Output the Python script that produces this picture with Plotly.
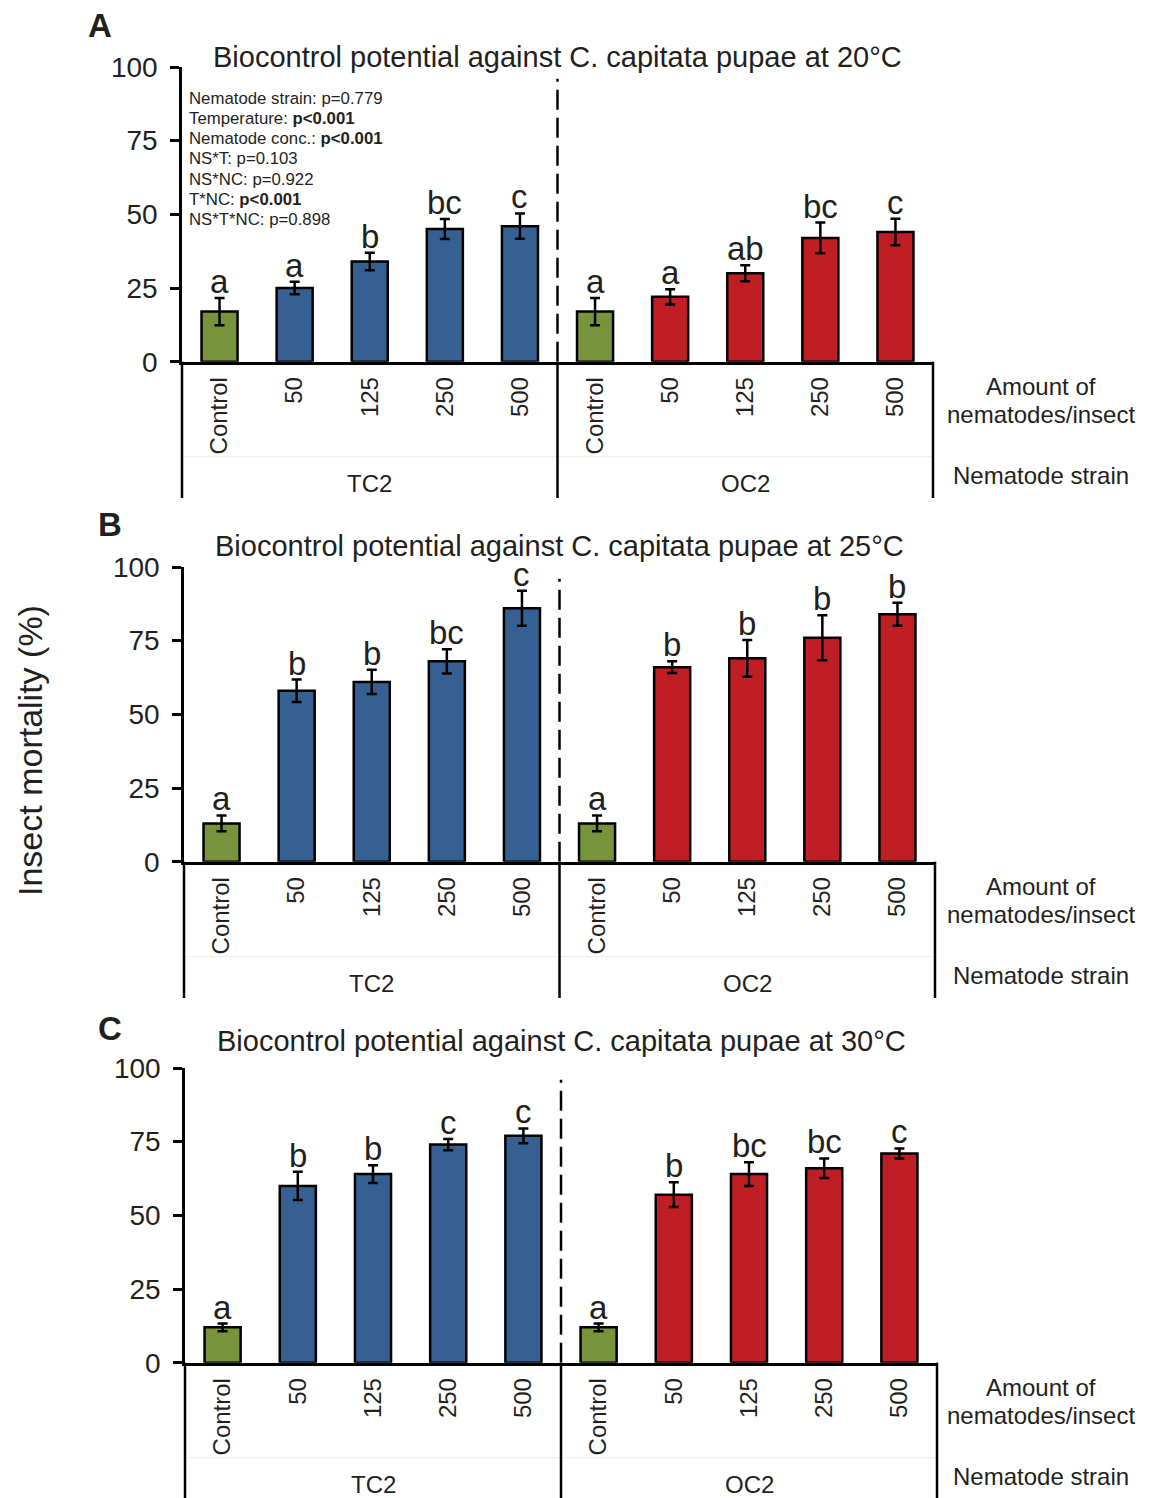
import plotly.graph_objects as go

# ---------------- data ----------------
categories = ["Control", "50", "125", "250", "500"]
strains = ["TC2", "OC2"]
temps = ["20", "25", "30"]

mort_20_TC2 = [17, 25, 34, 45, 46]
err_20_TC2 = [4.6, 2.1, 3.0, 3.4, 4.3]
let_20_TC2 = ["a", "a", "b", "bc", "c"]
mort_20_OC2 = [17, 22, 30, 42, 44]
err_20_OC2 = [4.6, 2.6, 2.7, 5.2, 4.5]
let_20_OC2 = ["a", "a", "ab", "bc", "c"]

mort_25_TC2 = [13, 58, 61, 68, 86]
err_25_TC2 = [2.7, 3.8, 4.1, 4.1, 5.9]
let_25_TC2 = ["a", "b", "b", "bc", "c"]
mort_25_OC2 = [13, 66, 69, 76, 84]
err_25_OC2 = [2.7, 2.0, 6.2, 7.6, 3.9]
let_25_OC2 = ["a", "b", "b", "b", "b"]

mort_30_TC2 = [12, 60, 64, 74, 77]
err_30_TC2 = [1.3, 4.8, 3.0, 1.9, 2.5]
let_30_TC2 = ["a", "b", "b", "c", "c"]
mort_30_OC2 = [12, 57, 64, 66, 71]
err_30_OC2 = [1.3, 4.2, 4.0, 3.3, 1.7]
let_30_OC2 = ["a", "b", "bc", "bc", "c"]

stats_lines = [
    "Nematode strain: p=0.779",
    "Temperature: <b>p<0.001</b>",
    "Nematode conc.: <b>p<0.001</b>",
    "NS*T: p=0.103",
    "NS*NC: p=0.922",
    "T*NC: <b>p<0.001</b>",
    "NS*T*NC: p=0.898",
]
y_ticks = [0, 25, 50, 75, 100]

# ---------------- styling ----------------
OFF = 8                      # page body margin of the html page
W, H = 1154 - OFF, 1498 - OFF
FONT = "Liberation Sans, Arial, sans-serif"
TXT = "#231f20"
GREEN = "#77933c"
BLUE = "#376092"
RED = "#be1e24"
strain_colors = {"TC2": BLUE, "OC2": RED}

def fx(px):
    return (px - OFF) / W

def fy(py):
    return 1 - (py - OFF) / H

panels = [
    dict(label="A", x0=182, x1=933, y0=67, y1=361.7, bottom=498, label_xy=(100, 25), title_y=57,
         data={"TC2": (mort_20_TC2, err_20_TC2, let_20_TC2), "OC2": (mort_20_OC2, err_20_OC2, let_20_OC2)}),
    dict(label="B", x0=184, x1=935, y0=567, y1=861.7, bottom=998, label_xy=(110, 524), title_y=546,
         data={"TC2": (mort_25_TC2, err_25_TC2, let_25_TC2), "OC2": (mort_25_OC2, err_25_OC2, let_25_OC2)}),
    dict(label="C", x0=185, x1=937, y0=1068, y1=1362.7, bottom=1498, label_xy=(110, 1028), title_y=1041,
         data={"TC2": (mort_30_TC2, err_30_TC2, let_30_TC2), "OC2": (mort_30_OC2, err_30_OC2, let_30_OC2)}),
]

fig = go.Figure()
annotations = []
shapes = []
layout_axes = {}

tick_text = categories * len(strains)
n_cat = len(tick_text)

for pi, (p, temp) in enumerate(zip(panels, temps)):
    sfx = "" if pi == 0 else str(pi + 1)
    xa, ya = "x" + sfx, "y" + sfx
    for si, strain in enumerate(strains):
        vals, errs, lets = p["data"][strain]
        xs = [si * len(categories) + i for i in range(len(categories))]
        colors = [GREEN if c == "Control" else strain_colors[strain] for c in categories]
        fig.add_trace(go.Bar(
            x=xs, y=vals, xaxis=xa, yaxis=ya, width=0.48,
            marker=dict(color=colors, line=dict(color="black", width=2.5)),
            error_y=dict(type="data", array=errs, visible=True, color="black", thickness=2.5, width=5),
            showlegend=False, hoverinfo="skip",
        ))
        for x, v, e, l in zip(xs, vals, errs, lets):
            annotations.append(dict(
                x=x, y=v + e, xref=xa, yref=ya, text=l, showarrow=False,
                yanchor="bottom", xanchor="center", yshift=-4,
                font=dict(family=FONT, size=33, color=TXT),
            ))
    # dashed separator between strains
    fig.add_trace(go.Scatter(
        x=[len(categories) - 0.5] * 2, y=[0, 96], xaxis=xa, yaxis=ya, mode="lines",
        line=dict(color="black", width=2.5, dash="20px,8px"), showlegend=False, hoverinfo="skip",
    ))

    layout_axes["xaxis" + sfx] = dict(
        domain=[fx(p["x0"]), fx(p["x1"])], anchor=ya, range=[-0.5, n_cat - 0.5],
        tickmode="array", tickvals=list(range(n_cat)), ticktext=tick_text, tickangle=-90,
        ticks="", showline=True, linecolor="black", linewidth=2.5, showgrid=False, zeroline=False,
        tickfont=dict(family=FONT, size=24, color=TXT), ticklabelstandoff=3, fixedrange=True,
        automargin=False,
    )
    layout_axes["yaxis" + sfx] = dict(
        domain=[fy(p["y1"]), fy(p["y0"])], anchor=xa, range=[0, 100],
        tickmode="array", tickvals=y_ticks, ticktext=[str(t) for t in y_ticks],
        ticks="outside", ticklen=9, tickwidth=2.5, tickcolor="black",
        showline=True, linecolor="black", linewidth=2.5, showgrid=False, zeroline=False,
        tickfont=dict(family=FONT, size=28, color=TXT), ticklabelstandoff=7, fixedrange=True,
        automargin=False,
    )

    # vertical lines of the category area
    xmid = (p["x0"] + p["x1"]) / 2
    for xpx in (p["x0"], xmid, p["x1"]):
        shapes.append(dict(type="line", xref="paper", yref="paper",
                           x0=fx(xpx), x1=fx(xpx), y0=fy(p["y1"]), y1=fy(p["bottom"]),
                           line=dict(color="black", width=2.5), layer="above"))
    # faint level separator
    shapes.append(dict(type="line", xref="paper", yref="paper",
                       x0=fx(p["x0"]), x1=fx(p["x1"]), y0=fy(p["y1"] + 95), y1=fy(p["y1"] + 95),
                       line=dict(color="#ececec", width=1), layer="below"))

    # strain labels
    for si, strain in enumerate(strains):
        annotations.append(dict(
            x=fx(p["x0"] + (p["x1"] - p["x0"]) * (0.25 + 0.5 * si)), y=fy(p["y1"] + 122),
            xref="paper", yref="paper", text=strain, showarrow=False,
            xanchor="center", yanchor="middle", font=dict(family=FONT, size=24, color=TXT)))
    # right-side labels
    for txt, dy in (("Amount of", 25), ("nematodes/insect", 53), ("Nematode strain", 114)):
        annotations.append(dict(
            x=fx(1041), y=fy(p["y1"] + dy), xref="paper", yref="paper", text=txt,
            showarrow=False, xanchor="center", yanchor="middle",
            font=dict(family=FONT, size=24, color=TXT)))
    # title
    annotations.append(dict(
        x=fx(xmid), y=fy(p["title_y"]), xref="paper", yref="paper",
        text="Biocontrol potential against C. capitata pupae at %s°C" % temp,
        showarrow=False, xanchor="center", yanchor="middle",
        font=dict(family=FONT, size=29, color=TXT)))
    # panel letter
    annotations.append(dict(
        x=fx(p["label_xy"][0]), y=fy(p["label_xy"][1]), xref="paper", yref="paper",
        text="<b>%s</b>" % p["label"], showarrow=False, xanchor="center", yanchor="middle",
        font=dict(family=FONT, size=33, color=TXT)))

# statistics text (panel A)
for i, line in enumerate(stats_lines):
    annotations.append(dict(
        x=fx(187), y=fy(98.3 + 20.2 * i), xref="paper", yref="paper", text=line,
        showarrow=False, xanchor="left", yanchor="middle",
        font=dict(family=FONT, size=16.8, color=TXT)))

# y-axis title
annotations.append(dict(
    x=fx(30), y=fy(751), xref="paper", yref="paper", text="Insect mortality (%)",
    showarrow=False, textangle=-90, xanchor="center", yanchor="middle",
    font=dict(family=FONT, size=34, color=TXT)))

fig.update_layout(
    width=W, height=H, margin=dict(l=0, r=0, t=0, b=0, pad=0, autoexpand=False),
    paper_bgcolor="white", plot_bgcolor="white",
    annotations=annotations, shapes=shapes, bargap=0.5,
    font=dict(family=FONT, color=TXT),
    **layout_axes,
)

fig.write_html("out.html")
